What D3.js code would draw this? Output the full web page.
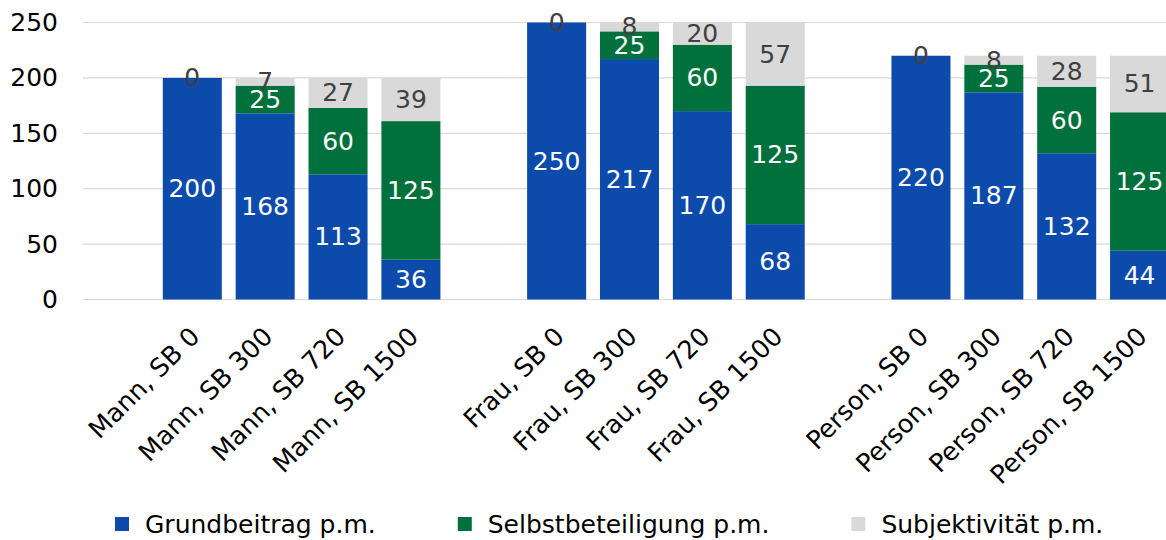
<!DOCTYPE html>
<html>
<head>
<meta charset="utf-8">
<script src="https://cdn.jsdelivr.net/npm/d3@7"></script>
<style>
  html, body { margin: 0; padding: 0; background: #fff; }
  svg { display: block; font-family: "DejaVu Sans", Verdana, sans-serif; }
</style>
</head>
<body>
<svg id="chart" width="1166" height="540"></svg>
<script>
// Monthly premium breakdown by profile and deductible (SB)
const groups = ["Mann", "Frau", "Person"];
const deductibles = ["SB 0", "SB 300", "SB 720", "SB 1500"];
const categories = [
  "Mann, SB 0", "Mann, SB 300", "Mann, SB 720", "Mann, SB 1500",
  "Frau, SB 0", "Frau, SB 300", "Frau, SB 720", "Frau, SB 1500",
  "Person, SB 0", "Person, SB 300", "Person, SB 720", "Person, SB 1500"
];
const grundbeitrag      = [200, 168, 113, 36, 250, 217, 170, 68, 220, 187, 132, 44];
const selbstbeteiligung = [null, 25, 60, 125, null, 25, 60, 125, null, 25, 60, 125];
const subjektivitaet    = [0, 7, 27, 39, 0, 8, 20, 57, 0, 8, 28, 51];
const seriesNames = ["Grundbeitrag p.m.", "Selbstbeteiligung p.m.", "Subjektivität p.m."];
const yTicks = [0, 50, 100, 150, 200, 250];

const colors = ["#0c4aac", "#00703c", "#d9d9d9"];
const labelColors = ["#ffffff", "#ffffff", "#404040"];
const fontSize = 25;

const svg = d3.select("#chart");

// Category slots: an empty slot ahead of each group of four bars
const slots = [];
groups.forEach((g, gi) => {
  slots.push("__gap" + gi);
  deductibles.forEach(d => slots.push(g + ", " + d));
});

const plotLeft = 83, plotRight = 1176, plotTop = 22.5, plotBottom = 299.5;

const x = d3.scaleBand()
  .domain(slots)
  .range([plotLeft, plotRight])
  .paddingInner(0.19)
  .paddingOuter(0.095);

const y = d3.scaleLinear().domain([0, 250]).range([plotBottom, plotTop]);

// Gridlines
svg.append("g")
  .selectAll("line")
  .data(yTicks)
  .join("line")
  .attr("x1", plotLeft).attr("x2", plotRight)
  .attr("y1", d => y(d)).attr("y2", d => y(d))
  .attr("stroke", "#d9d9d9").attr("stroke-width", 1.2);

// Y axis tick labels
const yAxis = d3.axisLeft(y).tickValues(yTicks).tickSize(0).tickPadding(0);
const yg = svg.append("g").attr("transform", `translate(58,0)`).call(yAxis);
yg.select(".domain").remove();
yg.selectAll("text")
  .attr("font-size", fontSize)
  .attr("font-family", "DejaVu Sans, Verdana, sans-serif")
  .attr("fill", "#000");

// Stacked data
const rows = categories.map((c, i) => ({
  cat: c,
  s0: grundbeitrag[i],
  s1: selbstbeteiligung[i],
  s2: subjektivitaet[i]
}));
const stack = d3.stack()
  .keys(["s0", "s1", "s2"])
  .value((d, k) => d[k] == null ? 0 : d[k]);
const stacked = stack(rows);

const layers = svg.append("g")
  .selectAll("g")
  .data(stacked)
  .join("g")
  .attr("fill", (d, i) => colors[i]);

layers.selectAll("rect")
  .data(d => d)
  .join("rect")
  .attr("x", d => x(d.data.cat))
  .attr("width", x.bandwidth())
  .attr("y", d => y(d[1]))
  .attr("height", d => y(d[0]) - y(d[1]));

// Value labels centred in each segment
const labels = svg.append("g");
stacked.forEach((layer, li) => {
  labels.append("g")
    .selectAll("text")
    .data(layer.filter(d => d.data[layer.key] != null))
    .join("text")
    .attr("x", d => x(d.data.cat) + x.bandwidth() / 2)
    .attr("y", d => y((d[0] + d[1]) / 2))
    .attr("text-anchor", "middle")
    .attr("dominant-baseline", "central")
    .attr("font-size", fontSize)
    .attr("fill", labelColors[li])
    .text(d => d.data[layer.key]);
});

// Rotated category labels
svg.append("g")
  .selectAll("text")
  .data(categories)
  .join("text")
  .attr("transform", d => `translate(${x(d) + x.bandwidth() / 2 + 9},338) rotate(-45)`)
  .attr("text-anchor", "end")
  .attr("font-size", 25.5)
  .attr("fill", "#000")
  .text(d => d);

// Legend
const legend = svg.append("g").attr("transform", "translate(115,524)");
let lx = 0;
seriesNames.forEach((name, i) => {
  const g = legend.append("g").attr("transform", `translate(${lx},0)`);
  g.append("rect")
    .attr("x", 0).attr("y", -7)
    .attr("width", 14).attr("height", 14)
    .attr("fill", colors[i]);
  const t = g.append("text")
    .attr("x", 30).attr("y", 0)
    .attr("dominant-baseline", "central")
    .attr("font-size", fontSize)
    .attr("fill", "#000")
    .text(name);
  lx += 30 + t.node().getComputedTextLength() + 82;
});
</script>
</body>
</html>
